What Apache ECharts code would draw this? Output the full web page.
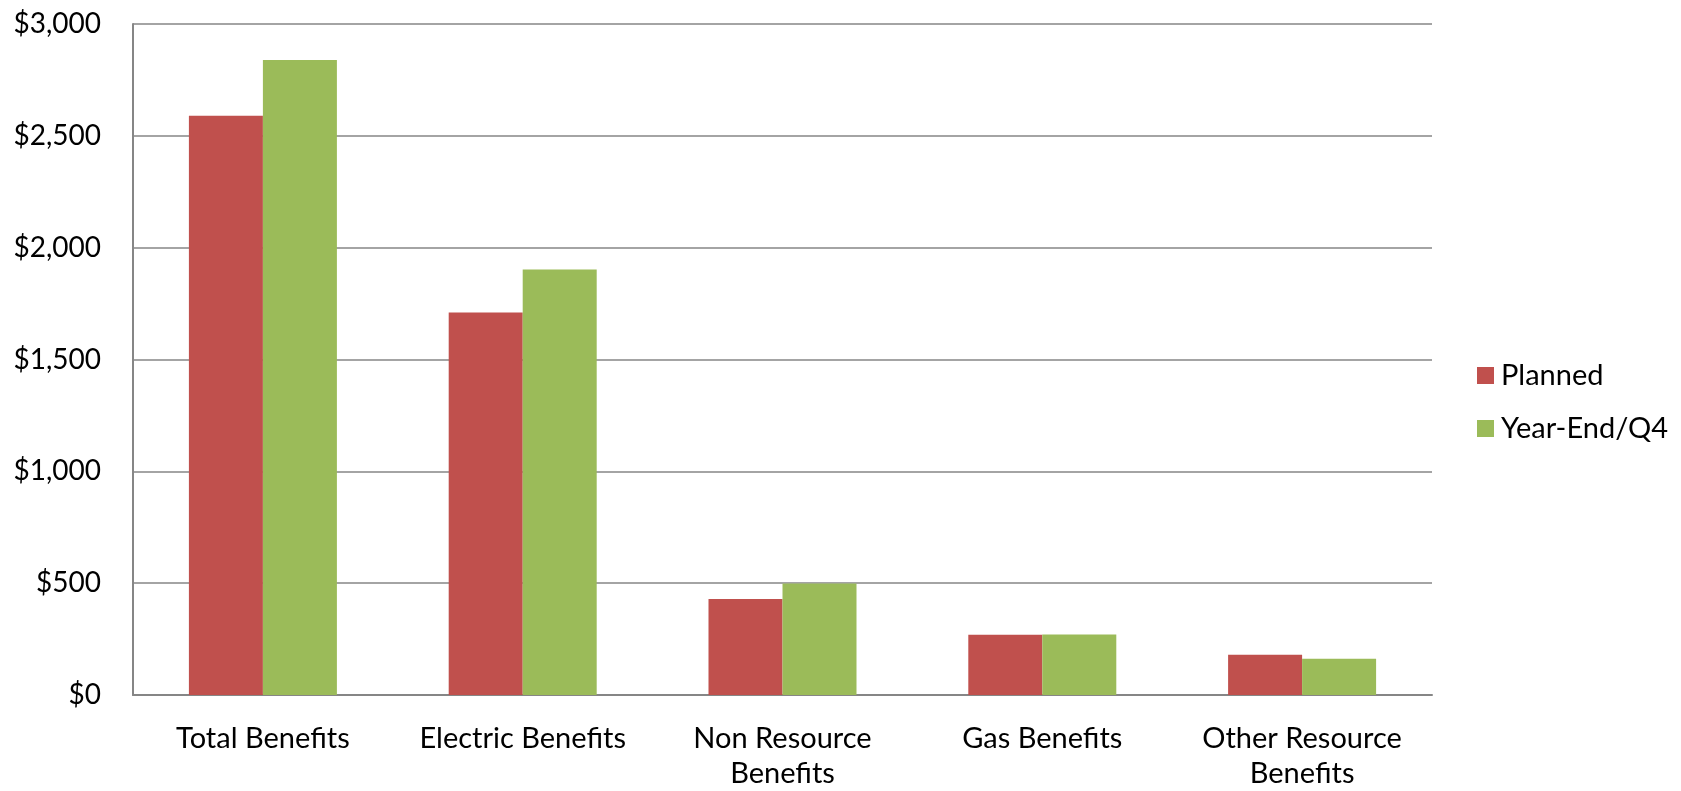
<!DOCTYPE html>
<html><head><meta charset="utf-8">
<script src="https://cdn.jsdelivr.net/npm/echarts@6/dist/echarts.min.js"></script>
<style>html,body{margin:0;padding:0;background:#fff;}#c{width:1681px;height:791px;}</style>
</head><body><div id="c"></div>
<script>
const categories = ['Total Benefits', 'Electric Benefits', 'Non Resource\nBenefits', 'Gas Benefits', 'Other Resource\nBenefits'];
const planned = [2590, 1710, 429, 269, 180];
const yearEnd = [2839, 1902, 499, 271, 162];
const seriesNames = ['Planned', 'Year-End/Q4'];
const yTicks = [0, 500, 1000, 1500, 2000, 2500, 3000];

const FONT = 'Lato';
const chart = echarts.init(document.getElementById('c'), null, {renderer: 'canvas'});
chart.setOption({
  animation: false,
  backgroundColor: '#fff',
  grid: {left: 133, top: 24, right: 249, bottom: 94, containLabel: false},
  legend: {
    orient: 'vertical', left: 1472, top: 356, itemWidth: 17, itemHeight: 17, itemGap: 24,
    icon: 'rect',
    textStyle: {fontFamily: FONT, fontSize: 29, color: '#000', padding: [0, 0, 0, 2]},
    data: seriesNames
  },
  xAxis: {
    type: 'category', data: categories,
    axisLine: {show: true, lineStyle: {color: '#868686', width: 2}},
    axisTick: {show: false},
    axisLabel: {fontFamily: FONT, fontSize: 29, color: '#000', margin: 26, lineHeight: 35, interval: 0}
  },
  yAxis: {
    type: 'value', min: yTicks[0], max: yTicks[yTicks.length - 1], interval: 500,
    axisLine: {show: true, lineStyle: {color: '#868686', width: 2}},
    axisTick: {show: false},
    splitLine: {lineStyle: {color: '#868686', width: 1.5}},
    axisLabel: {fontFamily: FONT, fontSize: 28, color: '#000', margin: 32,
      formatter: v => '$' + v.toLocaleString('en-US')}
  },
  series: [
    {name: seriesNames[0], type: 'bar', data: planned, barWidth: 74, barGap: '0%',
      itemStyle: {color: '#C0504D'}},
    {name: seriesNames[1], type: 'bar', data: yearEnd, barWidth: 74, barGap: '0%',
      itemStyle: {color: '#9BBB59'}}
  ]
});
</script></body></html>
